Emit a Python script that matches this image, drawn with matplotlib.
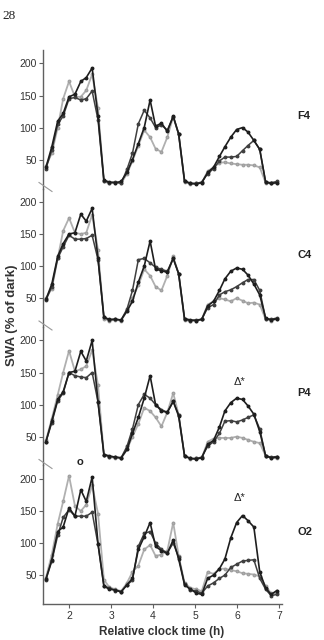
import matplotlib
matplotlib.use("Agg")
import matplotlib.pyplot as plt
from matplotlib.lines import Line2D

plt.rcParams['font.family'] = ['Liberation Sans', 'DejaVu Sans']

# relative clock time (h) of each sample
hours = [1.45, 1.59, 1.73, 1.86, 2.00, 2.14, 2.28, 2.41, 2.55, 2.69,
         2.83, 2.96, 3.10, 3.24, 3.38, 3.51, 3.65, 3.79, 3.93, 4.06,
         4.20, 4.34, 4.48, 4.61, 4.75, 4.89, 5.03, 5.16, 5.30, 5.44,
         5.58, 5.71, 5.85, 5.99, 6.13, 6.26, 6.40, 6.54, 6.68, 6.81, 6.95]

# SWA (% of dark), three curves per derivation
f4_a = [38, 70, 110, 122, 148, 152, 172, 178, 193, 118, 18, 15, 14, 16, 30, 50, 75, 100, 143, 102, 107,
        94, 118, 90, 17, 13, 12, 14, 30, 38, 55, 70, 85, 97, 100, 93, 80, 66, 15, 13, 14]
f4_b = [36, 65, 105, 118, 145, 147, 143, 145, 157, 112, 17, 14, 15, 13, 35, 60, 106, 127, 115, 100, 104,
        96, 117, 90, 16, 13, 13, 15, 28, 36, 48, 54, 54, 55, 64, 72, 80, 66, 15, 14, 16]
f4_c = [40, 60, 100, 145, 172, 148, 148, 158, 183, 130, 16, 13, 14, 13, 28, 48, 72, 96, 85, 67, 62,
        85, 117, 90, 15, 12, 13, 14, 32, 38, 45, 46, 44, 43, 42, 42, 41, 38, 14, 13, 13]

c4_a = [48, 72, 115, 135, 150, 152, 181, 170, 190, 112, 20, 17, 17, 16, 30, 45, 75, 100, 139, 95, 93,
        90, 112, 88, 18, 16, 15, 17, 38, 45, 62, 80, 92, 97, 95, 86, 72, 55, 19, 16, 18]
c4_b = [47, 68, 112, 130, 148, 142, 142, 143, 148, 110, 20, 16, 17, 16, 33, 62, 110, 112, 105, 98, 95,
        92, 112, 88, 17, 15, 16, 17, 35, 40, 55, 60, 63, 68, 74, 79, 79, 62, 18, 17, 19]
c4_c = [50, 65, 112, 155, 175, 152, 150, 152, 180, 125, 18, 15, 16, 15, 30, 50, 70, 95, 85, 68, 62,
        85, 115, 88, 16, 14, 15, 17, 40, 45, 50, 48, 45, 50, 46, 42, 43, 40, 17, 15, 17]

p4_a = [42, 75, 108, 120, 150, 152, 183, 168, 200, 104, 22, 20, 18, 17, 30, 55, 80, 110, 145, 100, 90,
        88, 105, 82, 20, 16, 15, 17, 38, 44, 65, 90, 103, 110, 108, 98, 85, 58, 20, 17, 18]
p4_b = [42, 72, 106, 118, 150, 145, 143, 142, 150, 104, 22, 19, 18, 17, 35, 62, 100, 116, 110, 100, 92,
        88, 105, 84, 20, 16, 16, 18, 35, 42, 55, 74, 75, 73, 76, 80, 84, 62, 20, 18, 19]
p4_c = [44, 78, 115, 150, 184, 152, 155, 160, 185, 130, 22, 18, 17, 16, 30, 50, 70, 95, 90, 80, 66,
        88, 118, 84, 20, 15, 16, 17, 42, 47, 48, 48, 48, 50, 48, 45, 42, 40, 20, 17, 16]

o2_a = [44, 74, 118, 125, 155, 142, 183, 165, 203, 99, 33, 28, 27, 24, 35, 45, 90, 110, 132, 95, 88,
        84, 105, 75, 35, 28, 22, 20, 45, 50, 60, 75, 108, 132, 143, 135, 125, 55, 30, 20, 26]
o2_b = [43, 72, 112, 140, 152, 142, 142, 142, 148, 98, 33, 30, 26, 24, 35, 42, 95, 115, 118, 100, 90,
        85, 100, 78, 36, 27, 25, 22, 33, 38, 45, 50, 62, 67, 72, 73, 74, 45, 28, 18, 20]
o2_c = [46, 82, 130, 165, 205, 158, 150, 160, 190, 146, 43, 31, 28, 25, 38, 55, 65, 90, 97, 80, 82,
        88, 132, 80, 38, 30, 28, 25, 55, 52, 60, 60, 58, 56, 53, 52, 51, 48, 33, 22, 22]

panel_names = ['F4', 'C4', 'P4', 'O2']
panel_data = [(f4_a, f4_b, f4_c), (c4_a, c4_b, c4_c), (p4_a, p4_b, p4_c), (o2_a, o2_b, o2_c)]

fig = plt.figure(figsize=(3.24, 6.4), dpi=100)

left, right = 43 / 324, 282 / 324
top, bottom = 1 - 50 / 640, 1 - 604 / 640
h = (top - bottom) / 4
axc = '#606060'
txtc = '#333333'

axes = []
for i, name in enumerate(panel_names):
    ax = fig.add_axes([left, top - (i + 1) * h, right - left, h])
    a, b, c = panel_data[i]
    ax.plot(hours, c, color='#b0b0b0', lw=1.3, marker='o', ms=1.8, mec='#a0a0a0', zorder=2)
    ax.plot(hours, b, color='#404040', lw=1.1, marker='o', ms=1.8, zorder=3)
    ax.plot(hours, a, color='#1e1e1e', lw=1.2, marker='o', ms=1.8, zorder=4)
    ax.set_xlim(1.38, 7.07)
    ax.set_ylim(5, 221)
    ax.set_yticks([50, 100, 150, 200])
    for s in ['top', 'right']:
        ax.spines[s].set_visible(False)
    ax.spines['left'].set_color(axc)
    ax.spines['left'].set_linewidth(1.0)
    ax.tick_params(axis='y', length=3, width=0.8, color=axc, labelsize=7.5,
                   labelcolor=txtc, pad=1.5)
    if i < 3:
        ax.spines['bottom'].set_visible(False)
        ax.set_xticks([])
    else:
        ax.spines['bottom'].set_color(axc)
        ax.spines['bottom'].set_linewidth(1.0)
        ax.set_xticks([2, 3, 4, 5, 6, 7])
        ax.tick_params(axis='x', length=3, width=0.8, color=axc, labelsize=7.5,
                       labelcolor=txtc, pad=2)
    ax.patch.set_alpha(0)
    ax.text(1.065, 118, name, transform=ax.get_yaxis_transform(), fontsize=8,
            fontweight='bold', color='#222222', ha='left', va='center')
    axes.append(ax)

# annotations
axes[2].text(6.07, 136, 'Δ*', fontsize=8, color='#222222', ha='center', va='center')
axes[3].text(6.07, 171, 'Δ*', fontsize=8, color='#222222', ha='center', va='center')
axes[3].text(2.26, 226, 'o', fontsize=8, fontweight='bold', color='#222222',
             ha='center', va='center', clip_on=False)

# axis break marks between panels
for i in range(1, 4):
    yb = top - i * h
    fig.add_artist(Line2D([left - 4 / 324, left + 9 / 324], [yb + 6 / 640, yb - 3 / 640],
                          color='#999999', lw=0.8))

fig.text(12 / 324, 1 - 315 / 640, 'SWA (% of dark)', rotation=90, fontsize=9.5,
         fontweight='bold', color=txtc, ha='center', va='center')
fig.text(162 / 324, 1 - 632 / 640, 'Relative clock time (h)', fontsize=8.5,
         fontweight='bold', color=txtc, ha='center', va='center')
fig.text(2 / 324, 1 - 16 / 640, '28', fontsize=9.5, family='Liberation Serif',
         color='#222222', ha='left', va='center')

fig.savefig('out.png', dpi=100)
